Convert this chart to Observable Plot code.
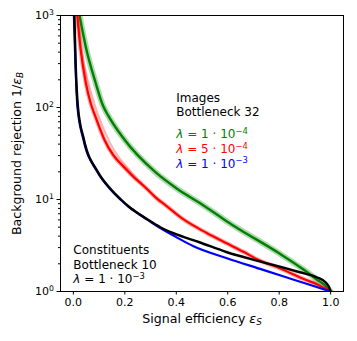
<!DOCTYPE html>
<html><head><meta charset="utf-8">
<script src="https://cdn.jsdelivr.net/npm/d3@7"></script>
<script src="https://cdn.jsdelivr.net/npm/@observablehq/plot@0.6"></script>
<style>body{margin:0;background:#fff}</style>
</head><body><div id="chart"></div>
<script>
// ---- data (signal efficiency, background rejection) ----
const greenEff = [0.024, 0.05, 0.086, 0.115, 0.135, 0.196, 0.319, 0.403, 0.49, 0.532, 0.6, 0.648, 0.8, 0.9, 0.946, 0.98, 1.0];
const greenRej = [1000, 435, 188, 105, 82, 45.7, 19.8, 13.1, 9.2, 7.7, 5.7, 4.7, 2.6, 1.69, 1.35, 1.15, 1.0];

const redEff = [0.015, 0.028, 0.048, 0.067, 0.084, 0.119, 0.216, 0.285, 0.325, 0.36, 0.42, 0.52, 0.6, 0.661, 0.72, 0.8, 0.9, 0.946, 1.0];
const redRej = [1000, 435, 188, 112, 82, 45.7, 19.8, 13.1, 10.2, 8.6, 6.3, 4.3, 3.3, 2.7, 2.2, 1.8, 1.35, 1.2, 1.0];

const redAltEff = [0.017, 0.031, 0.058, 0.097, 0.145, 0.225, 0.33];
const redAltRej = [1000, 435, 188, 82, 40, 19.8, 10];

const blueEff = [0.002, 0.008, 0.016, 0.039, 0.093, 0.143, 0.183, 0.213, 0.263, 0.293, 0.338, 0.4, 0.467, 0.597, 0.726, 0.803, 0.9, 1.0];
const blueRej = [1000, 300, 100, 45, 20, 13, 10, 8.4, 6.7, 5.9, 4.9, 3.9, 3.1, 2.3, 1.76, 1.5, 1.23, 1.0];

const blackEff = [0.004, 0.009, 0.018, 0.041, 0.095, 0.145, 0.185, 0.215, 0.265, 0.295, 0.338, 0.389, 0.49, 0.597, 0.72, 0.803, 0.88, 0.946, 0.98, 0.993, 1.0];
const blackRej = [1000, 300, 100, 45, 20, 13, 10, 8.4, 6.7, 5.9, 5.0, 4.3, 3.43, 2.67, 2.14, 1.86, 1.62, 1.43, 1.26, 1.13, 1.0];

const xTicks = [0, 0.2, 0.4, 0.6, 0.8, 1.0];
const xTickLabels = ["0.0", "0.2", "0.4", "0.6", "0.8", "1.0"];
const yMajorTicks = [1, 10, 100, 1000];
const yMajorLabels = ["10^{0}", "10^{1}", "10^{2}", "10^{3}"];
const yMinorTicks = [2,3,4,5,6,7,8,9,20,30,40,50,60,70,80,90,200,300,400,500,600,700,800,900];

const xLabel = "Signal efficiency *ε*_{S}";
const yLabel = "Background rejection 1/*ε*_{B}";
const imagesLines = ["Images", "Bottleneck 32"];
const lambdaLines = ["*λ* = 1 · 10^{−4}", "*λ* = 5 · 10^{−4}", "*λ* = 1 · 10^{−3}"];
const lambdaColors = ["green", "red", "blue"];
const constLines = ["Constituents", "Bottleneck 10", "*λ* = 1 · 10^{−3}"];

const toRows = (e, r) => e.map((v, i) => ({eff: v, rej: r[i]}));
const green = toRows(greenEff, greenRej);
const red = toRows(redEff, redRej);
const redAlt = toRows(redAltEff, redAltRej);
const blue = toRows(blueEff, blueRej);
const black = toRows(blackEff, blackRej);

const curve = "monotone-x";
const font = "DejaVu Sans";
const labelSize = 12.6;
const noteSize = 12;

const chart = Plot.plot({
  width: 357, height: 341,
  marginLeft: 60, marginRight: 14, marginTop: 15, marginBottom: 50,
  style: {fontFamily: font, fontSize: "11px", background: "white"},
  x: {domain: [-0.05, 1.05], label: null},
  y: {type: "log", domain: [1, 1000], label: null},
  marks: [
    Plot.line(green, {x: "eff", y: "rej", stroke: "green", strokeWidth: 6, strokeOpacity: 0.3, curve, clip: true}),
    Plot.line(green, {x: "eff", y: "rej", stroke: "green", strokeWidth: 2.4, curve, clip: true}),
    Plot.line(redAlt, {x: "eff", y: "rej", stroke: "red", strokeWidth: 2, strokeOpacity: 0.3, curve, clip: true}),
    Plot.line(red, {x: "eff", y: "rej", stroke: "red", strokeWidth: 4.5, strokeOpacity: 0.3, curve, clip: true}),
    Plot.line(red, {x: "eff", y: "rej", stroke: "red", strokeWidth: 2.2, curve, clip: true}),
    Plot.line(blue, {x: "eff", y: "rej", stroke: "blue", strokeWidth: 2.2, curve, clip: true}),
    Plot.line(black, {x: "eff", y: "rej", stroke: "black", strokeWidth: 2.4, curve, clip: true}),
    Plot.frame({stroke: "black", strokeWidth: 1}),
    Plot.axisX(xTicks, {tickSize: 3.5, tickPadding: 3, tickFormat: d => xTickLabels[xTicks.indexOf(d)], label: null, fontSize: 11}),
    Plot.axisY(yMajorTicks, {tickSize: 3.5, tickPadding: 3, tickFormat: d => yMajorLabels[yMajorTicks.indexOf(d)], label: null, fontSize: 11}),
    Plot.axisY(yMinorTicks, {tickSize: 2, tickFormat: () => "", label: null}),
    Plot.text([xLabel], {text: d => d, frameAnchor: "bottom", textAnchor: "middle", dy: 31, fontSize: labelSize}),
    Plot.text([yLabel], {text: d => d, frameAnchor: "left", textAnchor: "middle", dx: -44, rotate: -90, fontSize: labelSize}),
    Plot.text([imagesLines[0]], {text: d => d, x: 0.40, y: 127, textAnchor: "start", fontSize: noteSize}),
    Plot.text([imagesLines[1]], {text: d => d, x: 0.40, y: 127, dy: 14, textAnchor: "start", fontSize: noteSize}),
    ...lambdaLines.map((s, i) => Plot.text([s], {text: d => d, x: 0.40, y: 127, dy: 36.7 + i * 14.6, textAnchor: "start", fontSize: noteSize, fill: lambdaColors[i]})),
    ...constLines.map((s, i) => Plot.text([s], {text: d => d, x: 0.0, y: 2.80, dy: i * 14.6, textAnchor: "start", fontSize: noteSize}))
  ]
});

document.getElementById("chart").appendChild(chart);

// simple markup: *italic*, ^{sup}, _{sub}
function markup(el) {
  const s = el.textContent;
  if (el.children.length || !/[\^_]\{|\*/.test(s)) return;
  const fs = parseFloat(getComputedStyle(el).fontSize) || 11;
  el.textContent = "";
  const parts = s.split(/(\^\{[^}]*\}|_\{[^}]*\}|\*[^*]*\*)/g).filter(p => p !== "");
  let shift = 0;
  for (const p of parts) {
    const t = document.createElementNS("http://www.w3.org/2000/svg", "tspan");
    let target = 0, txt = p, small = false, italic = false;
    if (p.startsWith("^{")) { target = -0.38 * fs; txt = p.slice(2, -1); small = true; }
    else if (p.startsWith("_{")) { target = 0.22 * fs; txt = p.slice(2, -1); small = true; italic = /[A-Za-z]/.test(txt); }
    else if (p.startsWith("*")) { txt = p.slice(1, -1); italic = true; }
    const d = target - shift;
    if (d !== 0) t.setAttribute("dy", d.toFixed(2));
    shift = target;
    if (small) t.setAttribute("font-size", (fs * 0.7).toFixed(2));
    if (italic) t.setAttribute("font-style", "italic");
    t.textContent = txt;
    el.appendChild(t);
  }
}
d3.select(chart).selectAll("text").each(function() { markup(this); });
</script>
</body></html>
